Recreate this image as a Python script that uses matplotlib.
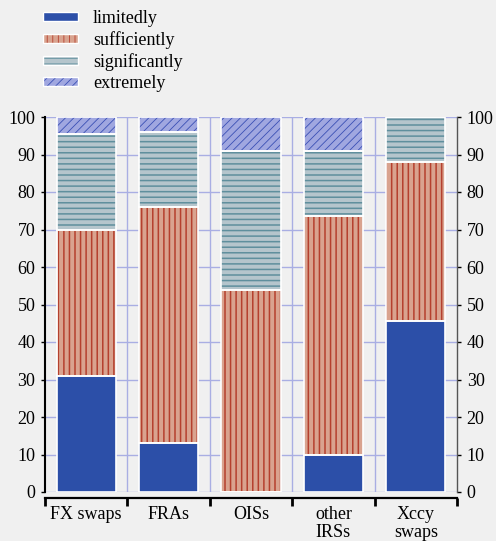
import matplotlib
matplotlib.use("Agg")
import matplotlib.pyplot as plt
from matplotlib.patches import Patch
from matplotlib.legend_handler import HandlerTuple
import numpy as np

categories = ["FX swaps", "FRAs", "OISs", "other\nIRSs", "Xccy\nswaps"]
series_names = ["limitedly", "sufficiently", "significantly", "extremely"]
limitedly = [31, 13, 0, 10, 45.5]
sufficiently = [39, 63, 54, 63.5, 42.5]
significantly = [25.5, 20, 37, 17.5, 12]
extremely = [4.5, 4, 9, 9, 0]
yticks = [0, 10, 20, 30, 40, 50, 60, 70, 80, 90, 100]

plt.rcParams['font.family'] = ['Liberation Serif', 'DejaVu Serif']
plt.rcParams['font.size'] = 13

bg = '#f0f0f0'
grid_c = '#a9aee3'
styles = [
    dict(face='#2c4fa8', hatch=None, hc='#2c4fa8', hlw=1.0),
    dict(face='#d9a38f', hatch='|||', hc='#b5402e', hlw=1.1),
    dict(face='#b5c5cc', hatch='---', hc='#5f8f9d', hlw=1.1),
    dict(face='#a0a7e0', hatch='////', hc='#3a50b5', hlw=0.6),
]

fig = plt.figure(figsize=(4.96, 5.41), dpi=100, facecolor=bg)
ax = fig.add_axes([45/496, 1-492/541, (457-45)/496, (492-117)/541])
ax.set_facecolor(bg)

x = np.arange(len(categories))
width = 0.72
bottom = np.zeros(len(categories))
handles = []
for name, vals, st in zip(series_names, [limitedly, sufficiently, significantly, extremely], styles):
    plt.rcParams['hatch.linewidth'] = st['hlw']
    vals = np.array(vals, dtype=float)
    ax.bar(x, vals, width, bottom=bottom, color=st['face'], hatch=st['hatch'],
           edgecolor=st['hc'], linewidth=0, zorder=3)
    ax.bar(x, vals, width, bottom=bottom, fill=False, edgecolor='white',
           linewidth=1.2, zorder=4)
    bottom += vals
    h1 = Patch(facecolor=st['face'], hatch=st['hatch'], edgecolor=st['hc'], linewidth=0)
    h2 = Patch(fill=False, edgecolor='white', linewidth=1.0)
    handles.append((h1, h2))

ax.set_xlim(-0.5, len(categories) - 0.5)
ax.set_ylim(0, 100)

# gridlines
for yv in yticks:
    ax.axhline(yv, color=grid_c, lw=1, zorder=1)
for b in np.arange(0.5, len(categories) - 0.5, 1):
    ax.axvline(b, color=grid_c, lw=1, zorder=1)

ax.set_yticks(yticks)
ax.tick_params(axis='y', which='both', left=True, right=True, labelleft=True,
               labelright=True, direction='out', length=3, width=1, pad=4)
ax.spines['top'].set_visible(False)
ax.spines['left'].set_linewidth(1.5)
ax.spines['left'].set_color('black')
ax.spines['right'].set_color('#555555')
ax.spines['right'].set_linewidth(1)
ax.spines['bottom'].set_position(('outward', 4))
ax.spines['bottom'].set_linewidth(1.6)

ax.set_xticks(np.arange(-0.5, len(categories), 1))
ax.set_xticklabels([])
ax.tick_params(axis='x', which='major', direction='out', length=6, width=2)
ax.set_xticks(x, minor=True)
ax.set_xticklabels(categories, minor=True, linespacing=1.1)
ax.tick_params(axis='x', which='minor', length=0, pad=6)

fig.legend(handles, series_names, handler_map={tuple: HandlerTuple(ndivide=1, pad=0)},
           loc='upper left', bbox_to_anchor=(0.062, 1.005), frameon=False,
           handlelength=1.9, handleheight=0.4, handletextpad=0.85,
           labelspacing=0.22, borderpad=0.2)

fig.savefig('out.png', dpi=100, facecolor=bg)
